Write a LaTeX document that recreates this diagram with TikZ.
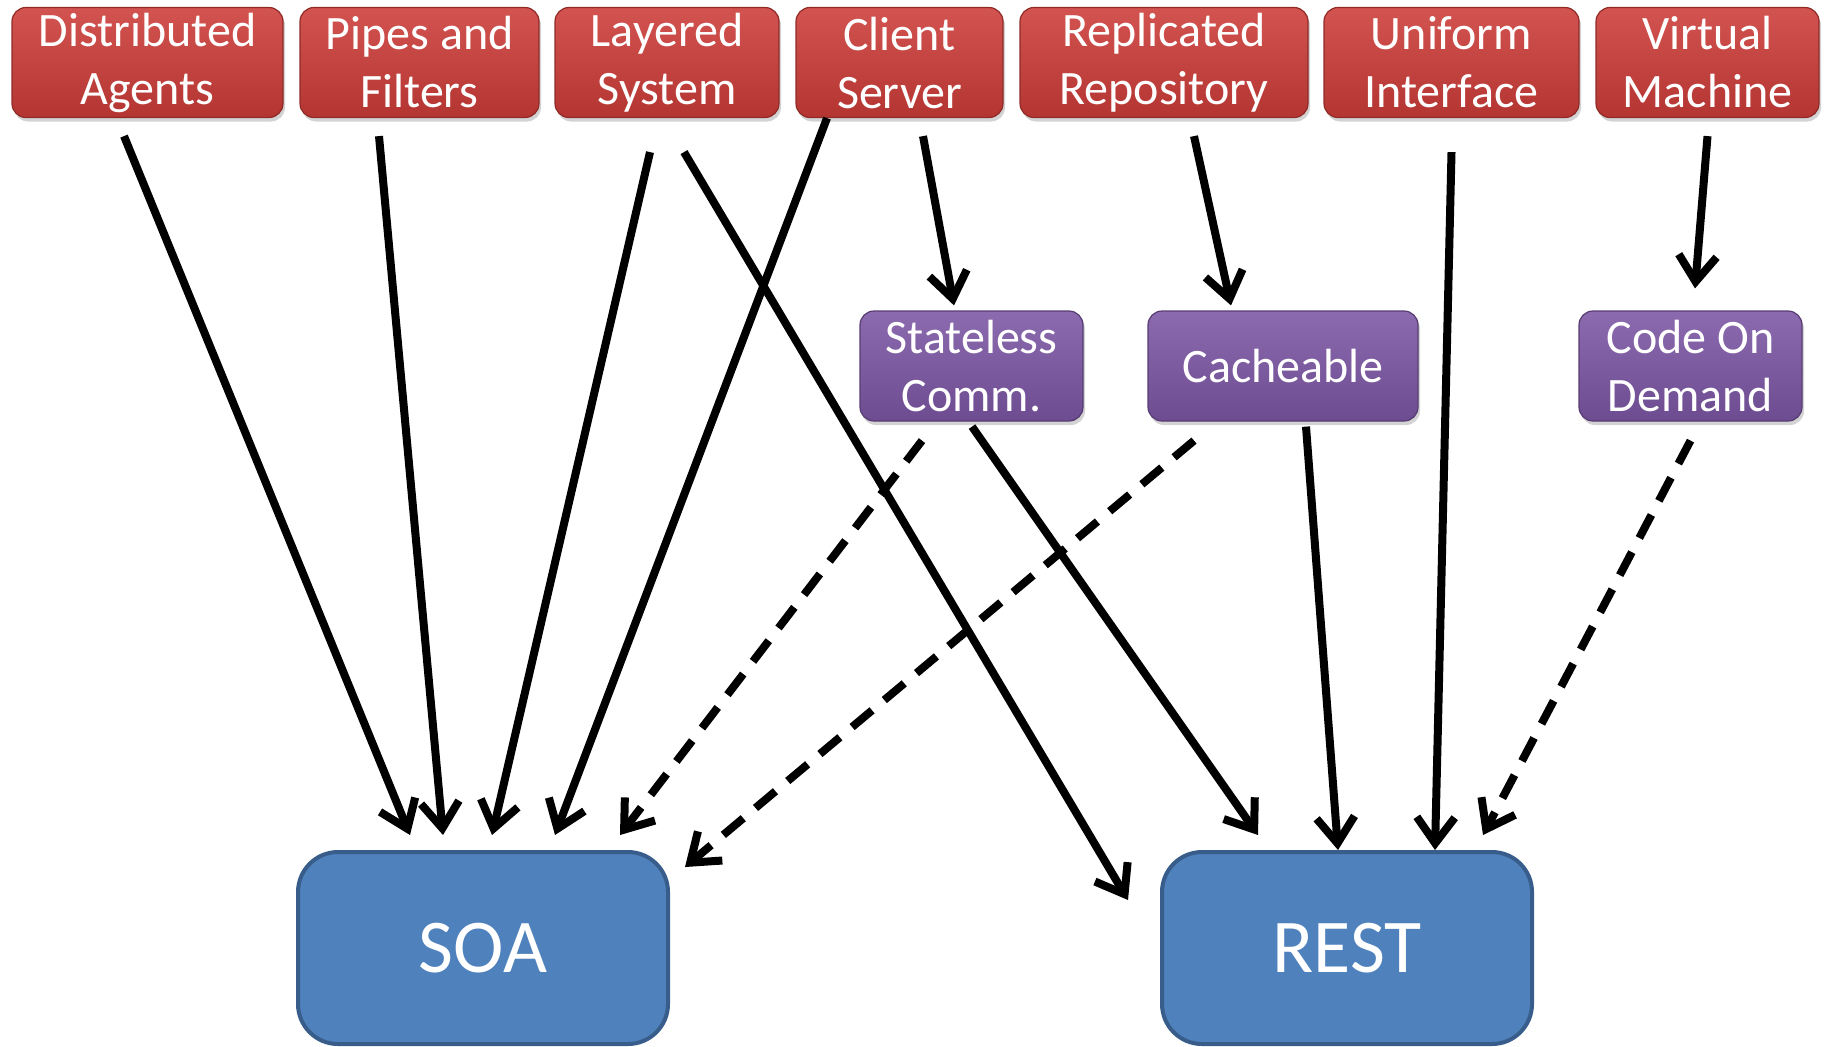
\documentclass[tikz,border=0pt]{standalone}
\usepackage{fontspec}
\setmainfont{Carlito}
\usepackage{tikz}
\usetikzlibrary{calc,arrows.meta,shadows}

\definecolor{stylered}{RGB}{204,60,56}
\definecolor{stylepurple}{RGB}{124,86,164}
\definecolor{archblue}{RGB}{79,129,189}
\definecolor{archline}{RGB}{56,93,138}

\tikzset{
	stylebox/.style={rounded corners=7pt, draw=#1!70!black, line width=0.6pt,
		top color=#1!88!white, bottom color=#1!88!black, text=white,
		align=center, inner sep=0pt, minimum height=55pt,
		font=\fontsize{24}{29}\selectfont,
		drop shadow={opacity=0.35, shadow xshift=1pt, shadow yshift=-2pt}},
	archbox/.style={rounded corners=20pt, draw=archline, line width=2pt,
		fill=archblue, text=white, minimum width=185pt, minimum height=96pt,
		font=\fontsize{38}{44}\selectfont},
	link/.style={line width=4pt, -{Straight Barb[length=13pt,width=19pt]}},
	weak/.style={link, dash pattern=on 13pt off 8pt},
}

\begin{document}
\begin{tikzpicture}[x=0.5pt, y=-0.5pt]
	\useasboundingbox (0,0) rectangle (1829,1046);
	
	%Architectural styles on top
	\node[stylebox=stylered, minimum width=135.5pt] (da) at (147.5,62.5) {Distributed\\Agents};
	\node[stylebox=stylered, minimum width=119.5pt] (pf) at (419.5,62.5) {Pipes and\\Filters};
	\node[stylebox=stylered, minimum width=112pt] (ls) at (667,62.5) {Layered\\System};
	\node[stylebox=stylered, minimum width=103.5pt] (cs) at (899.5,62.5) {Client\\Server};
	\node[stylebox=stylered, minimum width=144pt] (rr) at (1164,62.5) {Replicated\\Repository};
	\node[stylebox=stylered, minimum width=127.5pt] (ui) at (1451.5,62.5) {Uniform\\Interface};
	\node[stylebox=stylered, minimum width=111.5pt] (vm) at (1707.5,62.5) {Virtual\\Machine};
	
	%Derived styles
	\node[stylebox=stylepurple, minimum width=111.5pt] (sc) at (971.5,366) {Stateless\\Comm.};
	\node[stylebox=stylepurple, minimum width=135pt] (ca) at (1283,366) {Cacheable};
	\node[stylebox=stylepurple, minimum width=111.5pt] (cd) at (1690.5,366) {Code On\\Demand};
	
	%Architectures
	\node[archbox] (soa) at (483,948) {SOA};
	\node[archbox] (rest) at (1347,948) {REST};
	
	%Drawing links to SOA
	\draw[link] ([shift={(-23.5,18)}]da.south) -- ([shift={(-73,-15)}]soa.north);
	\draw[link] ([shift={(-40.5,18)}]pf.south) -- ([shift={(-40,-15)}]soa.north);
	\draw[link] ([shift={(-17,34)}]ls.south) -- ([shift={(9,-15)}]soa.north);
	\draw[link] ([shift={(-72.5,0)}]cs.south) -- ([shift={(72,-15)}]soa.north);
	\draw[weak] ([shift={(-49.5,19)}]sc.south) -- ([shift={(137,-15)}]soa.north);
	\draw[weak] ([shift={(-89,19)}]ca.south) -- ([shift={(15,17)}]soa.north east);
	
	%Drawing links to REST
	\draw[link] ([shift={(17,34)}]ls.south) -- ([shift={(-32,50)}]rest.north west);
	\draw[link] ([shift={(0.5,5)}]sc.south) -- ([shift={(-89,-15)}]rest.north);
	\draw[link] ([shift={(23,5)}]ca.south) -- ([shift={(-9,0)}]rest.north);
	\draw[link] ([shift={(0,34)}]ui.south) -- ([shift={(88,0)}]rest.north);
	\draw[weak] ([shift={(0,19)}]cd.south) -- ([shift={(136,-15)}]rest.north);
	
	%Drawing links to derived styles
	\draw[link] ([shift={(23.5,18)}]cs.south) -- ([shift={(-17.5,-5)}]sc.north);
	\draw[link] ([shift={(30,18)}]rr.south) -- ([shift={(-52,-5)}]ca.north);
	\draw[link] ([shift={(0,18)}]vm.south) -- ([shift={(4.5,-22)}]cd.north);
	
\end{tikzpicture}
\end{document}
